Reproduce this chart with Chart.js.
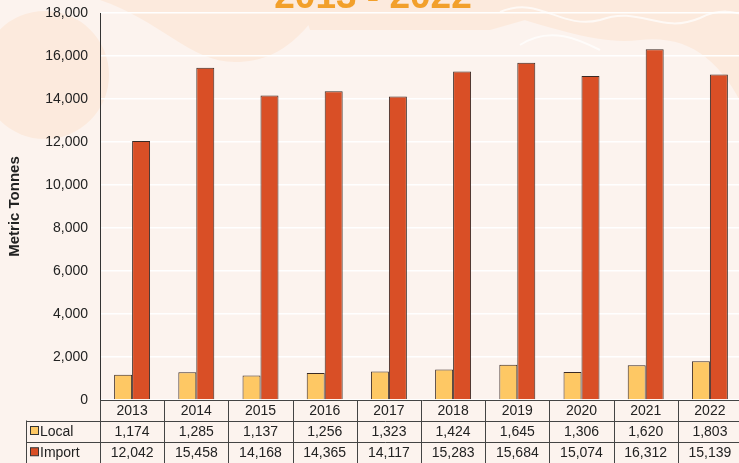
<!DOCTYPE html>
<html>
<head>
<meta charset="utf-8">
<script src="https://cdn.jsdelivr.net/npm/chart.js@4/dist/chart.umd.min.js"></script>
<style>
  html, body { margin: 0; padding: 0; background: #FCF3EE; overflow: hidden; }
  #wrap { position: relative; width: 745px; height: 463px; }
</style>
</head>
<body>
<div id="wrap"><canvas id="c" width="745" height="463"></canvas></div>
<script>
const years = ['2013','2014','2015','2016','2017','2018','2019','2020','2021','2022'];
const localValues = [1174, 1285, 1137, 1256, 1323, 1424, 1645, 1306, 1620, 1803];
const importValues = [12042, 15458, 14168, 14365, 14117, 15283, 15684, 15074, 16312, 15139];
const seriesNames = ['Local', 'Import'];
const yTicks = [0, 2000, 4000, 6000, 8000, 10000, 12000, 14000, 16000, 18000];
const titleText = '2013 - 2022';
const yTitle = 'Metric Tonnes';

const FONT = '"Liberation Sans", Arial, sans-serif';
const colors = ['#FEC864', '#D94F26'];
const lineCol = '#444';

const bgPlugin = {
  id: 'bg',
  beforeDraw(chart) {
    const ctx = chart.ctx;
    ctx.save();
    ctx.fillStyle = '#FCF3EE';
    ctx.fillRect(0, 0, chart.width, chart.height);
    ctx.fillStyle = '#FCEADD';
    ctx.beginPath(); ctx.arc(45, 75, 64, 0, Math.PI * 2); ctx.fill();
    ctx.beginPath();
    ctx.moveTo(100, 0);
    ctx.bezierCurveTo(160, 20, 190, 62, 235, 62);
    ctx.bezierCurveTo(290, 62, 310, 20, 330, 0);
    ctx.closePath(); ctx.fill();
    ctx.beginPath();
    ctx.moveTo(300, 0); ctx.lineTo(560, 0); ctx.lineTo(560, 10);
    ctx.lineTo(490, 30); ctx.lineTo(310, 30); ctx.closePath(); ctx.fill();
    ctx.beginPath();
    ctx.moveTo(490, 10);
    ctx.bezierCurveTo(560, 30, 600, 45, 640, 40);
    ctx.bezierCurveTo(690, 35, 720, 60, 745, 110);
    ctx.lineTo(745, 0); ctx.lineTo(500, 0); ctx.closePath(); ctx.fill();
    ctx.strokeStyle = 'rgba(255,255,255,0.7)'; ctx.lineWidth = 2;
    ctx.beginPath();
    ctx.moveTo(500, 12);
    ctx.bezierCurveTo(540, -5, 560, 30, 600, 20);
    ctx.bezierCurveTo(640, 5, 660, 35, 700, 18);
    ctx.bezierCurveTo(720, 8, 735, 12, 745, 15);
    ctx.stroke();
    ctx.beginPath();
    ctx.moveTo(520, 45);
    ctx.bezierCurveTo(550, 25, 580, 40, 600, 50);
    ctx.stroke();
    ctx.fillStyle = '#F2A02B';
    ctx.font = 'bold 37px ' + FONT;
    ctx.textAlign = 'center'; ctx.textBaseline = 'alphabetic';
    ctx.fillText(titleText, 373, 8);
    ctx.restore();
  }
};

const tablePlugin = {
  id: 'table',
  afterDraw(chart) {
    const ctx = chart.ctx;
    const area = chart.chartArea;
    const xs = chart.scales.x;
    const n = years.length;
    const w = (area.right - area.left) / n;
    const y0 = area.bottom, y1 = y0 + 20.5, y2 = y1 + 21, y3 = 470;
    ctx.save();
    ctx.strokeStyle = lineCol; ctx.lineWidth = 1;
    ctx.beginPath();
    ctx.moveTo(area.left, Math.round(y0) + 0.5); ctx.lineTo(chart.width, Math.round(y0) + 0.5);
    ctx.moveTo(26, Math.round(y1) + 0.5); ctx.lineTo(chart.width, Math.round(y1) + 0.5);
    ctx.moveTo(26, Math.round(y2) + 0.5); ctx.lineTo(chart.width, Math.round(y2) + 0.5);
    ctx.moveTo(26.5, y1); ctx.lineTo(26.5, y3);
    for (let i = 0; i <= n; i++) {
      const x = Math.round(area.left + i * w) + 0.5;
      ctx.moveTo(x, y0); ctx.lineTo(x, y3);
    }
    ctx.stroke();
    ctx.fillStyle = '#222';
    ctx.font = '14px ' + FONT;
    ctx.textAlign = 'center'; ctx.textBaseline = 'middle';
    const rows = [localValues, importValues];
    for (let i = 0; i < n; i++) {
      const cx = xs.getPixelForValue(i);
      ctx.fillText(years[i], cx, (y0 + y1) / 2 + 1);
      ctx.fillText(rows[0][i].toLocaleString('en-US'), cx, (y1 + y2) / 2 + 1);
      ctx.fillText(rows[1][i].toLocaleString('en-US'), cx, (y2 + 463) / 2 + 1);
    }
    ctx.textAlign = 'left';
    const rowMid = [(y1 + y2) / 2, (y2 + 463) / 2];
    for (let r = 0; r < 2; r++) {
      ctx.fillStyle = colors[r];
      ctx.fillRect(30.5, rowMid[r] - 4.5, 8, 8);
      ctx.strokeStyle = '#333';
      ctx.strokeRect(30.5, rowMid[r] - 4.5, 8, 8);
      ctx.fillStyle = '#222';
      ctx.fillText(seriesNames[r], 40, rowMid[r] + 1);
    }
    ctx.restore();
  }
};

new Chart(document.getElementById('c'), {
  type: 'bar',
  data: {
    labels: years,
    datasets: [
      { label: seriesNames[0], data: localValues, backgroundColor: colors[0], borderColor: '#3a2a25', borderWidth: 1 },
      { label: seriesNames[1], data: importValues, backgroundColor: colors[1], borderColor: '#3a2a25', borderWidth: 1 }
    ]
  },
  options: {
    responsive: false,
    animation: false,
    events: [],
    layout: { padding: { top: 13, bottom: 63, left: 0, right: 3 } },
    datasets: { bar: { categoryPercentage: 0.56, barPercentage: 1.0 } },
    plugins: { legend: { display: false }, tooltip: { enabled: false }, title: { display: false } },
    scales: {
      x: { display: false, grid: { display: false } },
      y: {
        min: 0, max: 18000,
        afterFit(scale) { scale.width = 100; scale.paddingTop = 0; scale.paddingBottom = 0; },
        afterBuildTicks(scale) { scale.ticks = yTicks.map(v => ({ value: v })); },
        ticks: {
          color: '#222', font: { family: FONT, size: 14 }, padding: 12,
          callback: v => Number(v).toLocaleString('en-US')
        },
        grid: { color: '#FFFFFF', lineWidth: 1.5, drawTicks: false },
        border: { display: true, color: '#333', width: 1 },
        title: { display: true, text: yTitle, color: '#222', font: { family: FONT, size: 15, weight: 'bold' }, padding: { top: 6, bottom: 0 } }
      }
    }
  },
  plugins: [bgPlugin, tablePlugin]
});
</script>
</body>
</html>
